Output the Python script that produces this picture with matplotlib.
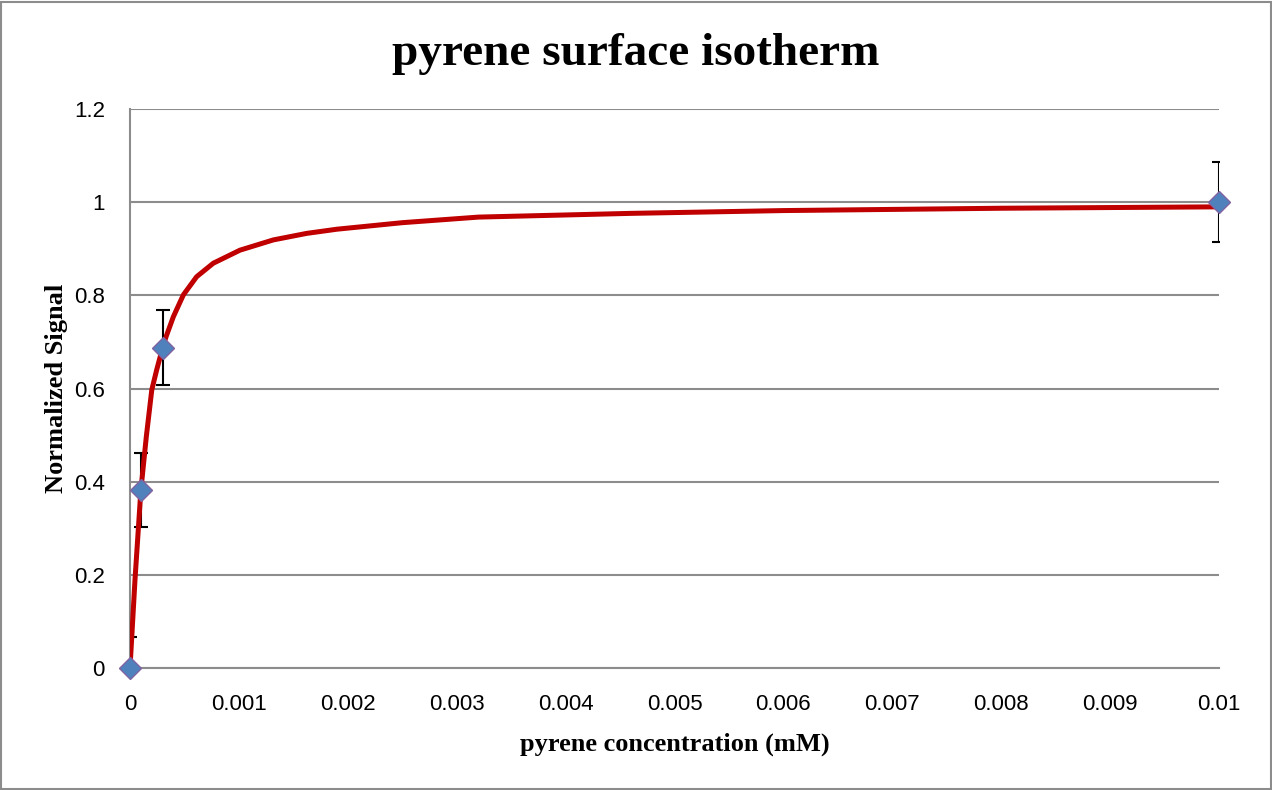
import matplotlib
matplotlib.use('Agg')
import matplotlib.pyplot as plt
from matplotlib.patches import Rectangle

# measured points (mM, normalized signal) with error bars
conc = [0.0, 0.0001, 0.0003, 0.01]
signal = [0.0, 0.382, 0.688, 1.0]
err = [0.067, 0.08, 0.08, 0.086]

# fitted isotherm curve
fit_conc = [0.0, 0.000046, 0.0001, 0.00015, 0.0002, 0.000245, 0.0003, 0.000331,
            0.000398, 0.00049, 0.000612, 0.000765, 0.00101, 0.001316, 0.001622,
            0.0019, 0.0025, 0.0032, 0.0046, 0.006, 0.008, 0.01]
fit_signal = [0.0, 0.19, 0.382, 0.497, 0.597, 0.640, 0.688, 0.711,
              0.754, 0.801, 0.840, 0.869, 0.897, 0.919, 0.933,
              0.942, 0.956, 0.968, 0.976, 0.982, 0.987, 0.99]

x_ticks = [0, 0.001, 0.002, 0.003, 0.004, 0.005, 0.006, 0.007, 0.008, 0.009, 0.01]
y_ticks = [0, 0.2, 0.4, 0.6, 0.8, 1, 1.2]


def plot_isotherm():
    plt.rcParams['font.family'] = ['Liberation Sans', 'DejaVu Sans']
    plt.rcParams['font.size'] = 16

    fig = plt.figure(figsize=(12.72, 7.90), dpi=100)
    ax = fig.add_axes([0.1022, 0.1544, 0.8561, 0.7076])

    # frame around the whole chart
    fig.patches.append(Rectangle((0.001, 0.001), 0.998, 0.997, transform=fig.transFigure,
                                 fill=False, edgecolor='#8c8c8c', linewidth=1.5))

    ax.errorbar(conc, signal, yerr=err, fmt='none', ecolor='black',
                elinewidth=1.5, capsize=5, capthick=1.5, zorder=3)
    ax.plot(fit_conc, fit_signal, color='#c00000', linewidth=3.6, zorder=4,
            solid_joinstyle='round')
    ax.plot(conc, signal, linestyle='none', marker='D', markersize=11.5,
            markerfacecolor='#4f81bd', markeredgecolor='#8064a2',
            markeredgewidth=1, zorder=5, clip_on=False)

    ax.set_xlim(0, 0.01)
    ax.set_ylim(0, 1.2)
    ax.set_xticks(x_ticks)
    ax.set_xticklabels([f'{v:g}' for v in x_ticks])
    ax.set_yticks(y_ticks)
    ax.set_yticklabels([f'{v:g}' for v in y_ticks])
    ax.tick_params(axis='x', length=0, pad=19)
    ax.tick_params(axis='y', length=0, pad=18)

    ax.grid(True, axis='y', color='#8c8c8c', linewidth=1.5)
    ax.set_axisbelow(True)
    for side in ['top', 'right']:
        ax.spines[side].set_visible(False)
    for side in ['left', 'bottom']:
        ax.spines[side].set_color('#8c8c8c')
        ax.spines[side].set_linewidth(1.5)

    fig.text(0.5, 1 - 65 / 790, 'pyrene surface isotherm', family='Liberation Serif',
             fontweight='bold', fontsize=34, ha='center', va='baseline')
    ax.set_xlabel('pyrene concentration (mM)', family='Liberation Serif',
                  fontweight='bold', fontsize=19, labelpad=12)
    ax.set_ylabel('Normalized Signal', family='Liberation Serif',
                  fontweight='bold', fontsize=19, labelpad=4)

    fig.savefig('out.png', dpi=100)


if __name__ == '__main__':
    plot_isotherm()
